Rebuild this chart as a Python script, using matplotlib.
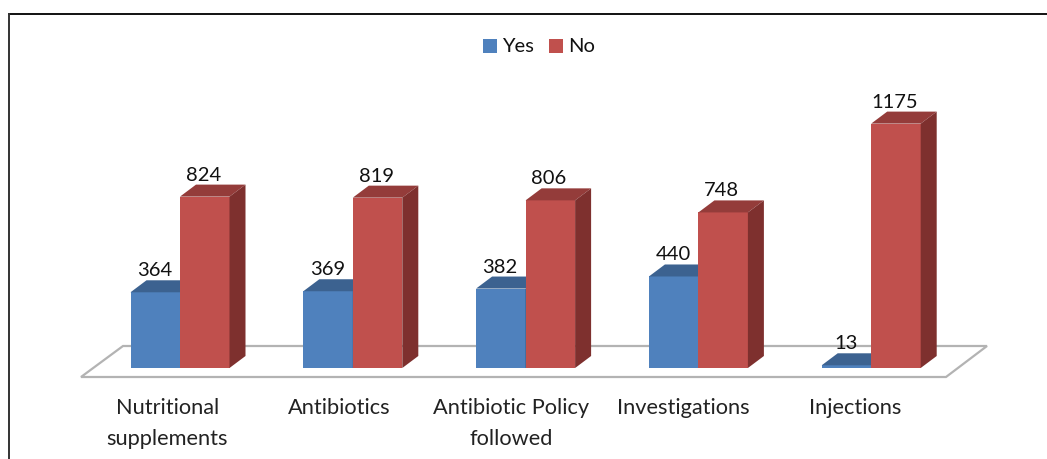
import matplotlib
matplotlib.use("Agg")
import matplotlib.pyplot as plt
from matplotlib.patches import Polygon, Rectangle
from matplotlib.lines import Line2D
import numpy as np

categories = ["Nutritional\nsupplements", "Antibiotics", "Antibiotic Policy\nfollowed", "Investigations", "Injections"]
yes_values = [364, 369, 382, 440, 13]
no_values = [824, 819, 806, 748, 1175]

W, H = 1047, 459
plt.rcParams['font.family'] = ['Lato', 'DejaVu Sans']

fig = plt.figure(figsize=(W / 100, H / 100), dpi=100)
ax = fig.add_axes([0, 0, 1, 1])

# scale of the picture: one category = 172.8 px, one unit = 0.208 px, baseline at y=368
px_x = 172.8
px_y = 0.208
ax.set_xlim(-180 / px_x, (W - 180) / px_x)
ax.set_ylim(-(H - 368) / px_y, 368 / px_y)
ax.axis("off")

bar_w = 49.5 / px_x
dx = 16 / px_x
dy = 12 / px_y


def px(x, y):
    # picture pixels to data units, only for floor and labels
    return (x - 180) / px_x, (368 - y) / px_y


# floor
floor = [px(81, 377), px(946, 377), px(987, 346), px(123, 346)]
ax.add_patch(Polygon(floor, closed=True, fc="white", ec="#b3b3b3", lw=1.6, zorder=1))


def bar3d(x0, v, front, top, side, z):
    ax.bar(x0, v, width=bar_w, align="edge", color=front, linewidth=0, zorder=z)
    x1 = x0 + bar_w
    ax.add_patch(Polygon([(x0, v), (x1, v), (x1 + dx, v + dy), (x0 + dx, v + dy)],
                         closed=True, fc=top, ec="none", zorder=z))
    ax.add_patch(Polygon([(x1, 0), (x1 + dx, dy), (x1 + dx, v + dy), (x1, v)],
                         closed=True, fc=side, ec="none", zorder=z))


label_kw = dict(ha="center", va="bottom", fontsize=14.5, color="#111111", zorder=10)
for i in range(len(categories)):
    bar3d(i - bar_w, yes_values[i], "#4f81bd", "#3c6290", "#335378", 3)
    bar3d(i, no_values[i], "#c0504d", "#943c3a", "#7e302e", 4)
    ax.text(i - bar_w + 24 / px_x, yes_values[i] + dy + 1 / px_y, str(yes_values[i]), **label_kw)
    ax.text(i + 23.5 / px_x, no_values[i] + dy + 1 / px_y, str(no_values[i]), **label_kw)
    ax.text(i - (12.5 + 0.8 * i) / px_x, px(0, 398.5)[1], categories[i], ha="center", va="top",
            fontsize=15.7, color="#222222", linespacing=1.66, zorder=10)

# legend
for x_box, col, name in [(483, "#4f81bd", "Yes"), (549, "#c0504d", "No")]:
    fig.add_artist(Rectangle((x_box / W, 1 - 53 / H), 14 / W, 14 / H, fc=col, ec="none",
                             transform=fig.transFigure))
    fig.text((x_box + 19) / W, 1 - 46 / H, name, ha="left", va="center", fontsize=14.5, color="#111111")

# frame, top and left only
fig.add_artist(Line2D([9 / W, 1], [1 - 14 / H, 1 - 14 / H], color="#111111", lw=1.4))
fig.add_artist(Line2D([9 / W, 9 / W], [1 - 14 / H, 0], color="#333333", lw=1.4))

fig.savefig("out.png", dpi=100)
